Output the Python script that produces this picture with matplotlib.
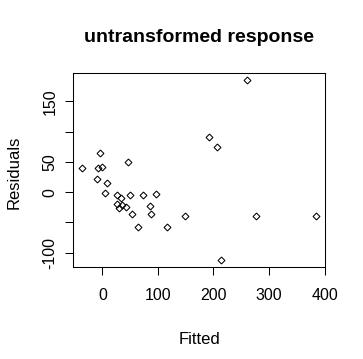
import matplotlib
matplotlib.use("Agg")
import matplotlib.pyplot as plt

fitted = [-36, -5, -7, -1, -9, 9, 4, 47, 26, 33, 49, 74, 96, 26, 35, 30, 42,
          85, 53, 87, 64, 116, 148, 192, 207, 261, 277, 384, 214]
residuals = [40, 64, 39, 41, 21, 15, -1, 50, -5, -9, -5, -5, -3, -19, -22, -27, -24,
             -23, -36, -37, -58, -57, -40, 91, 75, 185, -39, -39, -112]

xticks = [0, 100, 200, 300, 400]
yticks = [-100, -50, 0, 50, 100, 150]
ytick_labels = ["-100", "", "0", "50", "", "150"]

plt.rcParams['font.family'] = ['Liberation Sans', 'DejaVu Sans']

fig = plt.figure(figsize=(3.63, 3.59), dpi=100)
ax = fig.add_axes([73/363, 1-267/359, (325-73)/363, (267-73)/359])

ax.plot(fitted, residuals, linestyle='none', marker='D', markersize=3.5,
        markerfacecolor='none', markeredgecolor='black', markeredgewidth=0.75)

xmin, xmax = min(fitted), max(fitted)
ymin, ymax = min(residuals), max(residuals)
dx = (xmax - xmin) * 0.04
dy = (ymax - ymin) * 0.04
ax.set_xlim(xmin - dx, xmax + dx)
ax.set_ylim(ymin - dy, ymax + dy)

ax.set_xticks(xticks)
ax.set_xticklabels([str(t) for t in xticks])
ax.set_yticks(yticks)
ax.set_yticklabels(ytick_labels, rotation=90, va='center')

for s in ax.spines.values():
    s.set_linewidth(0.75)
ax.tick_params(direction='out', length=6, width=0.75, labelsize=11.5)
ax.tick_params(axis='x', pad=9)
ax.tick_params(axis='y', pad=5)

fig.text(199/363, 1-38/359, "untransformed response", ha='center', va='center',
         fontsize=14, fontweight='bold')
fig.text(199/363, 1-340/359, "Fitted", ha='center', va='center', fontsize=12)
fig.text(14/363, 1-172/359, "Residuals", ha='center', va='center', fontsize=12,
         rotation=90)

fig.savefig("out.png", dpi=100)
